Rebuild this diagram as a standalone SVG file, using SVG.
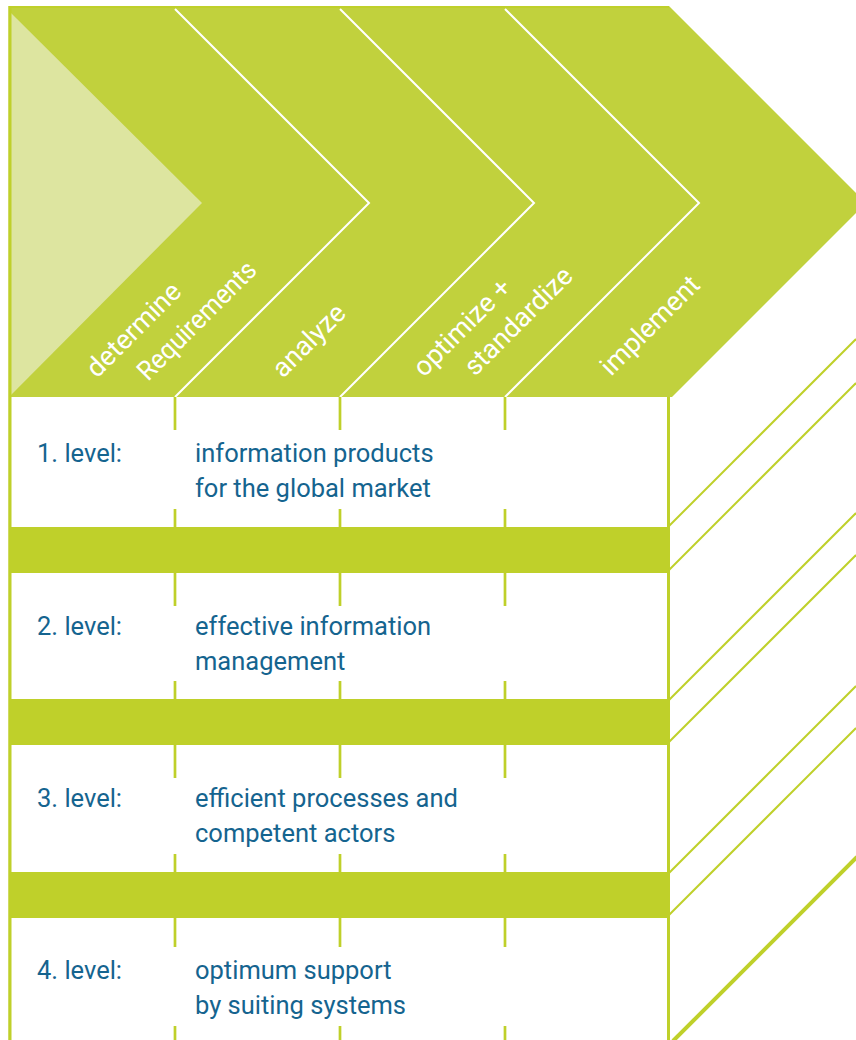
<svg xmlns="http://www.w3.org/2000/svg" width="856" height="1040" viewBox="0 0 856 1040">
<style>
.band{fill:#c1d13d}
.light{fill:#dde5a0}
.sep{fill:#bfd02a}
.wline{fill:none;stroke:#ffffff;stroke-width:2}
.gline{fill:none;stroke:#bfd02a;stroke-width:3}
.tick{fill:none;stroke:#bfd02a;stroke-width:2.7}
.diag{fill:none;stroke:#bfd02a;stroke-width:2}
.thick{fill:none;stroke:#bfd02a;stroke-width:4}
.lbl{font-family:Roboto,"Liberation Sans",sans-serif;font-size:27px;fill:#ffffff}
.row{font-family:Roboto,"Liberation Sans",sans-serif;font-size:25.5px;fill:#15648f}
</style>
<rect width="856" height="1040" fill="#ffffff"/>
<g id="phase-band">
<polygon class="band" points="9,6 669,6 856,193 856,213 672,397 9,397"/>
<polygon class="light" points="11,13 202,203 11,395"/>
<polyline class="wline" points="175,9 369,203 175,397"/>
<polyline class="wline" points="340,9 534,203 340,397"/>
<polyline class="wline" points="505,9 699,203 505,397"/>
<polyline fill="none" stroke="#bfd02a" stroke-width="2" points="9.5,1040 9.5,7 669,7"/>
</g>
<g id="label-determine">
<text class="lbl" transform="translate(97,379) rotate(-45)">determine</text>
<text class="lbl" transform="translate(148,382) rotate(-45)" textLength="156" lengthAdjust="spacingAndGlyphs">Requirements</text>
</g>
<g id="label-analyze">
<text class="lbl" transform="translate(283,379) rotate(-45)">analyze</text>
</g>
<g id="label-optimize">
<text class="lbl" transform="translate(424,378) rotate(-45)">optimize +</text>
<text class="lbl" transform="translate(475,377) rotate(-45)">standardize</text>
</g>
<g id="label-implement">
<text class="lbl" transform="translate(611,377) rotate(-45)">implement</text>
</g>
<g id="frame">
<line class="gline" x1="10" y1="6" x2="10" y2="1040"/>
<line class="gline" x1="668.5" y1="397" x2="668.5" y2="1040"/>
<rect class="sep" x="9" y="527" width="660" height="46"/>
<rect class="sep" x="9" y="699" width="660" height="46"/>
<rect class="sep" x="9" y="872" width="660" height="46"/>
</g>
<g id="ticks">
<path class="tick" d="M175,397V430M340,397V430M505,397V430M175,509V527M340,509V527M505,509V527"/>
<path class="tick" d="M175,573V606M340,573V606M505,573V606M175,681V699M340,681V699M505,681V699"/>
<path class="tick" d="M175,745V778M340,745V778M505,745V778M175,854V872M340,854V872M505,854V872"/>
<path class="tick" d="M175,918V947M340,918V947M505,918V947M175,1026V1040M340,1026V1040M505,1026V1040"/>
</g>
<g id="connectors">
<line class="diag" x1="669" y1="526" x2="856" y2="339"/>
<line class="diag" x1="669" y1="570" x2="856" y2="383"/>
<line class="diag" x1="669" y1="700" x2="856" y2="513"/>
<line class="diag" x1="669" y1="742" x2="856" y2="555"/>
<line class="diag" x1="669" y1="873" x2="856" y2="686"/>
<line class="diag" x1="669" y1="915" x2="856" y2="728"/>
<line class="thick" x1="673" y1="1041" x2="857" y2="857"/>
</g>
<g id="level-1">
<text class="row" x="37" y="462">1. level:</text>
<text class="row" x="195" y="462">information products</text>
<text class="row" x="195" y="497">for the global market</text>
</g>
<g id="level-2">
<text class="row" x="37" y="635">2. level:</text>
<text class="row" x="195" y="635">effective information</text>
<text class="row" x="195" y="670">management</text>
</g>
<g id="level-3">
<text class="row" x="37" y="807">3. level:</text>
<text class="row" x="195" y="807">efficient processes and</text>
<text class="row" x="195" y="842">competent actors</text>
</g>
<g id="level-4">
<text class="row" x="37" y="979">4. level:</text>
<text class="row" x="195" y="979">optimum support</text>
<text class="row" x="195" y="1014">by suiting systems</text>
</g>
</svg>
